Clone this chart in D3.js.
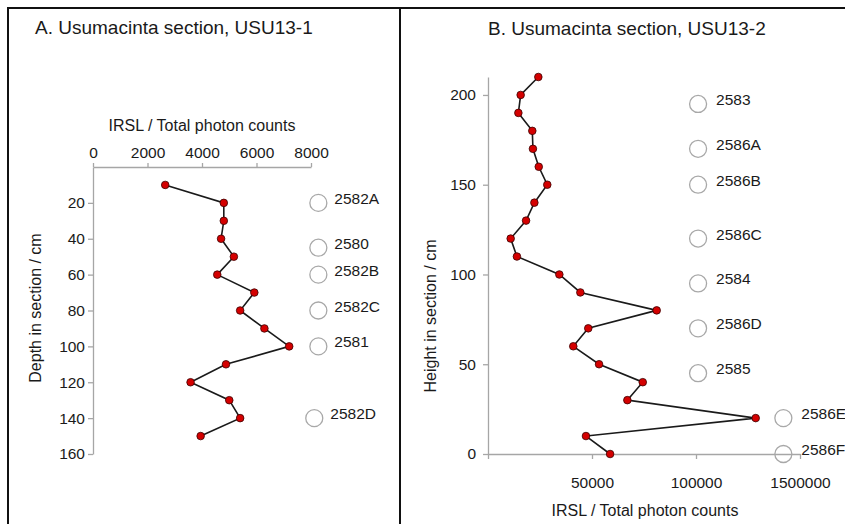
<!DOCTYPE html>
<html lang="en">
<head>
<meta charset="UTF-8">
<script src="https://d3js.org/d3.v7.min.js"></script>
<style>
  body { margin: 0; background: #fff; }
  text { font-family: "Liberation Sans", Arial, sans-serif; fill: #1a1a1a; }
  .axis path, .axis line { stroke: #a6a6a6; stroke-width: 1.3; }
  .axis text { font-size: 15.5px; fill: #1a1a1a; }
</style>
</head>
<body>
<div id="chart"></div>
<script>
// Panel A: USU13-1, depth profile
var depthA = [10, 20, 30, 40, 50, 60, 70, 80, 90, 100, 110, 120, 130, 140, 150];
var countsA = [2650, 4800, 4800, 4700, 5170, 4560, 5920, 5400, 6290, 7200, 4880, 3580, 5000, 5400, 3950];
var samplesA = ["2582A", "2580", "2582B", "2582C", "2581", "2582D"];
var sampleDepthA = [20, 45, 60, 80, 100, 140];
var sampleXA = [8270, 8270, 8270, 8270, 8270, 8120];
var xTicksA = [0, 2000, 4000, 6000, 8000];
var yTicksA = [20, 40, 60, 80, 100, 120, 140, 160];

// Panel B: USU13-2, height profile
var heightB = [210, 200, 190, 180, 170, 160, 150, 140, 130, 120, 110, 100, 90, 80, 70, 60, 50, 40, 30, 20, 10, 0];
var countsB = [24200, 15700, 14600, 21300, 21600, 24400, 28500, 22300, 18300, 10900, 13900, 34300, 44400, 81100,
               48200, 41000, 53400, 74400, 67000, 128700, 47100, 58700];
var samplesB = ["2583", "2586A", "2586B", "2586C", "2584", "2586D", "2585", "2586E", "2586F"];
var sampleHeightB = [195, 170, 150, 120, 95, 70, 45, 20, 0];
var sampleXB = [101000, 101000, 101000, 101000, 101000, 101000, 101000, 142000, 142000];
var xTicksB = [0, 50000, 100000, 150000];
var xTickLabelsB = ["", "50000", "100000", "1500000"];
var yTicksB = [0, 50, 100, 150, 200];

var width = 845, height = 524;

var svg = d3.select("#chart")
    .append("svg")
    .attr("width", width)
    .attr("height", height);

// frames
svg.append("rect")
    .attr("x", 8).attr("y", 8).attr("width", 392).attr("height", 540)
    .attr("fill", "none").attr("stroke", "#111").attr("stroke-width", 2);
svg.append("rect")
    .attr("x", 400).attr("y", 8).attr("width", 460).attr("height", 540)
    .attr("fill", "none").attr("stroke", "#111").attr("stroke-width", 2);

// titles
svg.append("text").attr("x", 35).attr("y", 34)
    .style("font-size", "19px").text("A. Usumacinta section, USU13-1");
svg.append("text").attr("x", 488).attr("y", 35)
    .style("font-size", "19px").text("B. Usumacinta section, USU13-2");

/* ---------- panel A ---------- */
var xA = d3.scaleLinear().domain([0, 8000]).range([93, 311]);
var yA = d3.scaleLinear().domain([0, 160]).range([167, 454]);

svg.append("g")
    .attr("class", "axis")
    .attr("transform", "translate(0,167)")
    .call(d3.axisTop(xA).tickValues(xTicksA).tickSize(4).tickSizeOuter(0).tickPadding(5)
        .tickFormat(d3.format("d")));

svg.append("g")
    .attr("class", "axis")
    .attr("transform", "translate(93,0)")
    .call(d3.axisLeft(yA).tickValues(yTicksA).tickSize(5).tickSizeOuter(0).tickPadding(3));

svg.append("text")
    .attr("x", xA(4000)).attr("y", 131)
    .attr("text-anchor", "middle")
    .style("font-size", "16px")
    .text("IRSL / Total photon counts");

svg.append("text")
    .attr("transform", "translate(41,308) rotate(-90)")
    .attr("text-anchor", "middle")
    .style("font-size", "16px")
    .text("Depth in section / cm");

var lineA = d3.line()
    .x(function (d, i) { return xA(countsA[i]); })
    .y(function (d) { return yA(d); });

svg.append("path")
    .datum(depthA)
    .attr("d", lineA)
    .attr("fill", "none")
    .attr("stroke", "#1a1a1a")
    .attr("stroke-width", 1.6);

svg.selectAll(".ptA")
    .data(depthA)
    .enter()
    .append("circle")
    .attr("class", "ptA")
    .attr("cx", function (d, i) { return xA(countsA[i]); })
    .attr("cy", function (d) { return yA(d); })
    .attr("r", 3.8)
    .attr("fill", "#d40000")
    .attr("stroke", "#3a0000")
    .attr("stroke-width", 0.8);

var labA = svg.selectAll(".labA")
    .data(samplesA)
    .enter()
    .append("g")
    .attr("class", "labA")
    .attr("transform", function (d, i) {
        return "translate(" + xA(sampleXA[i]) + "," + yA(sampleDepthA[i]) + ")";
    });
labA.append("circle")
    .attr("r", 8.5)
    .attr("fill", "#fff")
    .attr("stroke", "#a8a8a8")
    .attr("stroke-width", 1.3);
labA.append("text")
    .attr("x", 16).attr("y", 1)
    .style("font-size", "15.5px")
    .text(function (d) { return d; });

/* ---------- panel B ---------- */
var xB = d3.scaleLinear().domain([0, 150000]).range([488, 800]);
var yB = d3.scaleLinear().domain([0, 210]).range([454, 77]);

svg.append("g")
    .attr("class", "axis")
    .attr("transform", "translate(0,454)")
    .call(d3.axisBottom(xB).tickValues(xTicksB).tickSize(5).tickSizeOuter(0).tickPadding(18)
        .tickFormat(function (d, i) { return xTickLabelsB[i]; }));

svg.append("g")
    .attr("class", "axis")
    .attr("transform", "translate(488,0)")
    .call(d3.axisLeft(yB).tickValues(yTicksB).tickSize(5).tickSizeOuter(0).tickPadding(7));

svg.append("text")
    .attr("x", 645).attr("y", 516)
    .attr("text-anchor", "middle")
    .style("font-size", "16px")
    .text("IRSL / Total photon counts");

svg.append("text")
    .attr("transform", "translate(436,316) rotate(-90)")
    .attr("text-anchor", "middle")
    .style("font-size", "16px")
    .text("Height in section / cm");

var lineB = d3.line()
    .x(function (d, i) { return xB(countsB[i]); })
    .y(function (d) { return yB(d); });

svg.append("path")
    .datum(heightB)
    .attr("d", lineB)
    .attr("fill", "none")
    .attr("stroke", "#1a1a1a")
    .attr("stroke-width", 1.6);

svg.selectAll(".ptB")
    .data(heightB)
    .enter()
    .append("circle")
    .attr("class", "ptB")
    .attr("cx", function (d, i) { return xB(countsB[i]); })
    .attr("cy", function (d) { return yB(d); })
    .attr("r", 3.8)
    .attr("fill", "#d40000")
    .attr("stroke", "#3a0000")
    .attr("stroke-width", 0.8);

var labB = svg.selectAll(".labB")
    .data(samplesB)
    .enter()
    .append("g")
    .attr("class", "labB")
    .attr("transform", function (d, i) {
        return "translate(" + xB(sampleXB[i]) + "," + yB(sampleHeightB[i]) + ")";
    });
labB.append("circle")
    .attr("r", 8.5)
    .attr("fill", "none")
    .attr("stroke", "#a8a8a8")
    .attr("stroke-width", 1.3);
labB.append("text")
    .attr("x", 18).attr("y", 1)
    .style("font-size", "15.5px")
    .text(function (d) { return d; });
</script>
</body>
</html>
